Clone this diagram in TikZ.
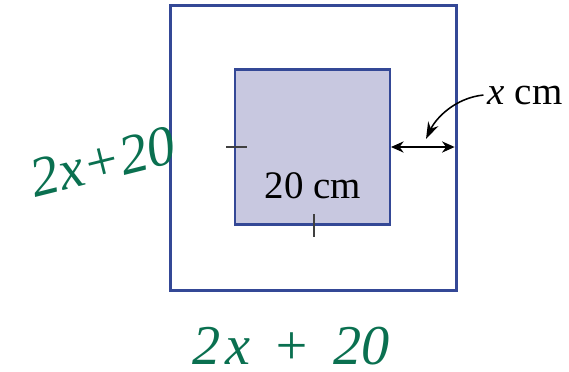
\documentclass[tikz,border=0pt]{standalone}
\usepackage{fontspec}
\setmainfont{Liberation Serif}
\usetikzlibrary{arrows.meta}
\definecolor{frameblue}{RGB}{52,72,150}
\definecolor{boxfill}{RGB}{200,200,224}
\definecolor{inkgreen}{RGB}{10,112,80}
\begin{document}
\begin{tikzpicture}[x=0.025cm, y=-0.025cm,
  sq/.style={draw=frameblue, inner sep=0pt, outer sep=0pt},
  lbl/.style={font=\fontsize{27.7}{30}\selectfont, inner sep=0pt},
  ink/.style={text=inkgreen, font=\fontsize{40}{42}\selectfont\itshape, inner sep=0pt},
  tick/.style={line width=1.1pt, black!75}]
\useasboundingbox (0,0) rectangle (569,371);
\node[sq, line width=2.1pt, minimum size=7.125cm] (outer) at (313.5,148) {};
\node[sq, line width=1.5pt, fill=boxfill, minimum size=3.875cm] (inner) at (312.5,147) {};
% tick marks
\coordinate (tl) at (226,147); \coordinate (tr) at (247,147);
\coordinate (bt) at (314,214); \coordinate (bb) at (314,237);
\draw[tick] (tl) -- (tr)
(bt) -- (bb);
\node[lbl] (side) at (313,186) {20 cm};
\node[lbl] (xlab) at (525,96) {\textit{x} cm};
% width of the frame
\coordinate (xtip) at (426,139);
\draw[line width=0.9pt, {Stealth[length=9pt,width=8pt]}-{Stealth[length=9pt,width=8pt]}, shorten <=0.7pt, shorten >=1pt]
(inner.east) -- (inner.east -| outer.east);
\draw[line width=1.1pt, -{Stealth[length=12pt,width=8pt]}] (xlab.west) ++(-4,-1) coordinate (xstart)
.. controls (455,98) and (436,118) .. (xtip);
% handwriting
\node[ink, rotate=14] (lside) at (103,162) {2x+20};
\node[ink, anchor=base] (bside) at (291,364) {2\hspace{3pt}x\hspace{16pt}+\hspace{16pt}20};
\end{tikzpicture}
\end{document}
